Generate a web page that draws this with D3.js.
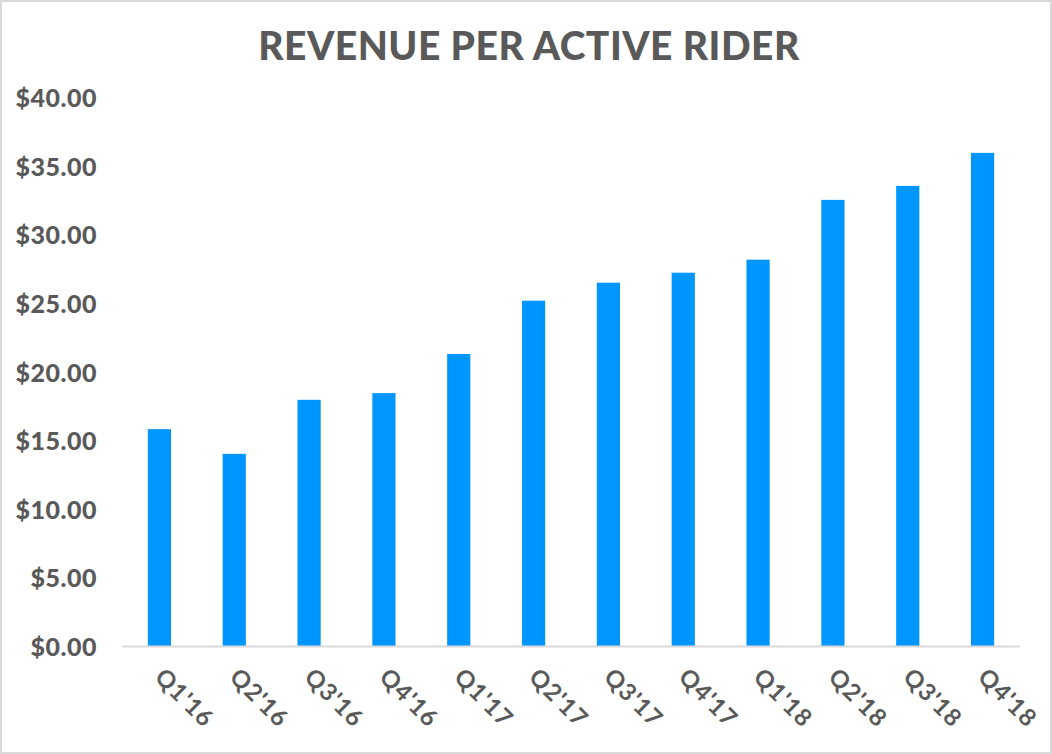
<!DOCTYPE html>
<html>
<head>
<meta charset="utf-8">
<script src="https://cdn.jsdelivr.net/npm/d3@7"></script>
<style>
  html, body { margin: 0; padding: 0; background: #fff; }
  svg { display: block; }
  text { font-family: Lato, "Open Sans", sans-serif; font-weight: 700; fill: #595959; }
</style>
</head>
<body>
<svg id="chart" width="1052" height="754"></svg>
<script>
const categories = ["Q1'16","Q2'16","Q3'16","Q4'16","Q1'17","Q2'17","Q3'17","Q4'17","Q1'18","Q2'18","Q3'18","Q4'18"];
const revenuePerRider = [15.85, 14.05, 17.99, 18.48, 21.33, 25.22, 26.53, 27.26, 28.21, 32.57, 33.59, 36.00];
const yTicks = [0, 5, 10, 15, 20, 25, 30, 35, 40];
const chartTitle = "REVENUE PER ACTIVE RIDER";

(function () {
const svg = d3.select("#chart");
const W = 1052, H = 754;

// outer border
svg.append("rect").attr("x", 1).attr("y", 1).attr("width", W - 2).attr("height", H - 2)
  .attr("fill", "#fff").attr("stroke", "#d9d9d9").attr("stroke-width", 2);

const pLeft = 122, pRight = 1020, pTop = 98, pBottom = 646.5;

const x = d3.scaleBand().domain(categories).range([pLeft, pRight]).paddingInner(0.69).paddingOuter(0.345);
const y = d3.scaleLinear().domain([0, 40]).range([pBottom, pTop]);

// title
svg.append("text").attr("x", 529).attr("y", 60).attr("text-anchor", "middle")
  .style("font-size", "39px").style("font-weight", 900).style("letter-spacing", "0.5px").text(chartTitle);

// y axis labels
const yAxis = d3.axisLeft(y).tickValues(yTicks).tickSize(0).tickPadding(0)
  .tickFormat(d => "$" + d3.format(".2f")(d));
const gy = svg.append("g").attr("transform", `translate(97,0)`).call(yAxis);
gy.select(".domain").remove();
gy.selectAll("text").style("font-size", "25px").style("font-family", "Lato, sans-serif")
  .style("font-weight", 900).style("letter-spacing", "0.5px").attr("fill", "#595959").attr("dy", "0.35em");

// bars
svg.append("g").selectAll("rect").data(categories).join("rect")
  .attr("x", d => x(d))
  .attr("width", x.bandwidth())
  .attr("y", (d, i) => y(revenuePerRider[i]))
  .attr("height", (d, i) => y(0) - y(revenuePerRider[i]))
  .attr("fill", "#0096ff");

// x axis line
const xAxis = d3.axisBottom(x).tickSize(0).tickPadding(0);
const gx = svg.append("g").attr("transform", `translate(0,${pBottom})`).call(xAxis);
gx.select(".domain").attr("stroke", "#d9d9d9").attr("stroke-width", 2).attr("d", `M${pLeft},0H${pRight}`);
gx.selectAll(".tick text")
  .attr("text-anchor", "start")
  .attr("dy", "0")
  .attr("y", 0)
  .attr("transform", "translate(-6,32) rotate(45)")
  .style("font-size", "24px").style("font-family", "Lato, sans-serif")
  .style("letter-spacing", "1px")
  .style("font-weight", 700).attr("fill", "#595959");
})();
</script>
</body>
</html>
